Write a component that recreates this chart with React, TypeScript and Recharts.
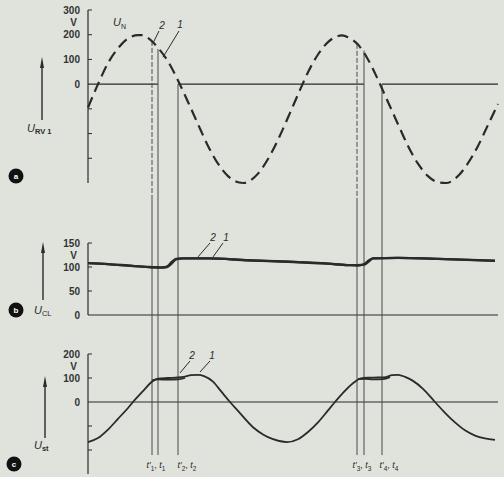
import React from 'react';
import { LineChart, Line, XAxis, YAxis, ReferenceLine, ReferenceDot } from 'recharts';

// a) supply voltage U_N (dashed), time in ms
const supplyTime = [0, 1, 2, 3, 4, 5, 5.5, 6, 7, 8, 9, 10, 11, 12, 13, 14, 15, 15.6, 16, 17, 18, 19, 20, 21, 22, 23, 24, 25, 25.4, 26, 27, 28, 29, 30, 31, 32, 33, 34, 35, 35.8, 37, 38, 39, 40, 41];
const supplyVolts = [-95, 0, 85, 145, 185, 198, 198, 187, 147, 92, 15, -72, -162, -250, -322, -372, -397, -400, -395, -362, -303, -225, -135, -42, 48, 120, 170, 195, 197, 190, 160, 100, 18, -72, -162, -250, -322, -372, -397, -400, -372, -320, -250, -165, -80];

// b) U_CL, curves 1 and 2
const clampTime = [0, 2, 4, 6, 7.4, 7.9, 8.4, 8.8, 9.5, 12, 16, 20, 24, 26, 27, 27.6, 28.1, 28.5, 31, 35, 40.7];
const clampVolts1 = [108, 106, 103, 100, 99, 100, 108, 116, 118, 118, 114, 111, 107, 104, 104, 105, 112, 118, 119, 117, 113];
const clampVolts2 = [108, 106, 103, 100, 99, 101, 111, 117, 118, 118, 114, 111, 107, 104, 103, 106, 114, 118, 119, 117, 113];

// c) U_st, curve 1 and the short pieces of curve 2
const steerTime = [0, 1, 2, 3, 4, 4.5, 5.5, 6.5, 7, 8, 9, 9.7, 10.3, 11, 11.6, 12.5, 13.3, 14.2, 15, 16.5, 17.5, 18.5, 19.9, 21, 22, 23, 24, 24.7, 25.5, 26.5, 27.2, 28, 29, 29.8, 30.4, 31, 31.7, 32.5, 33.5, 34.7, 35.7, 36.7, 37.7, 38.7, 39.7, 40.7];
const steerVolts1 = [-167, -150, -115, -70, -25, 0, 45, 88, 97, 100, 102, 106, 112, 113, 108, 85, 45, 0, -37, -105, -135, -155, -167, -155, -125, -85, -35, 0, 38, 78, 97, 101, 102, 104, 112, 113, 105, 88, 55, 0, -45, -85, -118, -140, -152, -158];
const steer2TimeA = [6.4, 7, 8, 9, 9.7];
const steer2VoltsA = [90, 94, 93, 94, 100];
const steer2TimeB = [27, 27.7, 28.5, 29.5, 30.2];
const steer2VoltsB = [95, 96, 94, 95, 103];

// switching instants t1', t1, t2, t3', t3, t4
const eventTimes = [6.4, 7.0, 9.0, 26.9, 27.6, 29.4];
const eventTopVolts = [175, 142, 0, 163, 136, 0];
const eventPrimed = [true, false, false, true, false, false];
const eventLabelTimes = [6.8, 9.9, 27.4, 30.1];
const eventLabelIndex = ['1', '2', '3', '4'];

const INK = '#2a2a2a';
const THIN = '#4a4a4a';
const BG = '#dfe3dc';
const FONT = '"Liberation Sans", Arial, sans-serif';

const rows = (ts: number[], vs: number[]) => ts.map((t, i) => ({ t, v: vs[i] }));

function VoltTick(props: any) {
  const { x, y, payload, unitAt } = props;
  const v = payload.value;
  if (v === unitAt) {
    return (
      <text x={x - 11} y={y} dy={4} textAnchor="end" fontSize={10} fontWeight="bold" fill="#333" fontFamily={FONT}>V</text>
    );
  }
  return (
    <g>
      {v !== 0 && <line x1={x} x2={x + 4} y1={y} y2={y} stroke={INK} strokeWidth={1} />}
      {v >= 0 && (
        <text x={x - 8} y={y} dy={3.5} textAnchor="end" fontSize={10} fontWeight="bold" fill="#333" fontFamily={FONT}>
          {v}
        </text>
      )}
    </g>
  );
}

const tag = (content: React.ReactNode, anchor: 'start' | 'middle' | 'end' = 'middle', size = 10) =>
  (p: any) => (
    <text x={p.viewBox.x} y={p.viewBox.y} textAnchor={anchor} fontSize={size} fill={INK} fontFamily={FONT}>
      {content}
    </text>
  );

const Note = (t: number, v: number, content: React.ReactNode, key: string, anchor: 'start' | 'middle' | 'end' = 'middle', size = 10) => (
  <ReferenceDot key={key} x={t} y={v} r={0} fill="none" stroke="none" ifOverflow="visible" label={tag(content, anchor, size)} />
);

const Leader = (t1: number, v1: number, t2: number, v2: number, key: string) => (
  <ReferenceLine key={key} segment={[{ x: t1, y: v1 }, { x: t2, y: v2 }]} stroke={INK} strokeWidth={1} ifOverflow="visible" />
);

const verticals = (top: (i: number) => number, bottom: number, dashedPrimes: boolean) =>
  eventTimes.map((t, i) => (
    <ReferenceLine
      key={`ev${i}`}
      segment={[{ x: t, y: top(i) }, { x: t, y: bottom }]}
      stroke={THIN}
      strokeWidth={1}
      strokeDasharray={dashedPrimes && eventPrimed[i] ? '5 2' : undefined}
      ifOverflow="visible"
    />
  ));

const margin = (top: number, bottom: number) => ({ top, bottom, left: 48, right: 6 });

function PanelA() {
  const zeroPieces = [[0, eventTimes[1]], [eventTimes[2], eventTimes[4]], [eventTimes[5], 41]];
  return (
    <LineChart width={504} height={200} margin={margin(10, 17)} data={rows(supplyTime, supplyVolts)}>
      <XAxis type="number" dataKey="t" domain={[0, 41]} hide />
      <YAxis
        domain={[-400, 300]}
        ticks={[-300, -200, -100, 0, 100, 200, 250, 300]}
        interval={0}
        width={40}
        tickSize={0}
        tickMargin={0}
        tickLine={false}
        axisLine={{ stroke: INK, strokeWidth: 1.2 }}
        tick={<VoltTick unitAt={250} />}
      />
      {zeroPieces.map(([a, b], i) => (
        <ReferenceLine key={`z${i}`} segment={[{ x: a, y: 0 }, { x: b, y: 0 }]} stroke={INK} strokeWidth={1.2} ifOverflow="visible" />
      ))}
      {verticals((i) => eventTopVolts[i], -520, true)}
      <Line type="monotone" dataKey="v" stroke={INK} strokeWidth={2.2} strokeDasharray="11 6" dot={false} isAnimationActive={false} />
      {Note(2.5, 235, <><tspan fontStyle="italic">U</tspan><tspan dy={3} fontSize={7}>N</tspan></>, 'un', 'start', 11)}
      {Leader(7.1, 215, 6.5, 166, 'l2')}
      {Leader(9.1, 215, 7.5, 109, 'l1')}
      {Note(7.4, 225, <tspan fontStyle="italic">2</tspan>, 'n2')}
      {Note(9.2, 227, <tspan fontStyle="italic">1</tspan>, 'n1')}
    </LineChart>
  );
}

function PanelB() {
  return (
    <LineChart width={504} height={135} margin={margin(43, 20)}>
      <XAxis type="number" dataKey="t" domain={[0, 41]} hide />
      <YAxis
        domain={[0, 150]}
        ticks={[0, 50, 100, 125, 150]}
        interval={0}
        width={40}
        tickSize={0}
        tickMargin={0}
        tickLine={false}
        axisLine={{ stroke: INK, strokeWidth: 1.2 }}
        tick={<VoltTick unitAt={125} />}
      />
      <ReferenceLine y={0} stroke={INK} strokeWidth={1.2} ifOverflow="visible" />
      {verticals(() => 280, -60, false)}
      <Line data={rows(clampTime, clampVolts2)} type="monotone" dataKey="v" stroke={INK} strokeWidth={2.2} dot={false} isAnimationActive={false} />
      <Line data={rows(clampTime, clampVolts1)} type="monotone" dataKey="v" stroke={INK} strokeWidth={2.4} dot={false} isAnimationActive={false} />
      {Leader(12.2, 150, 11, 121, 'l2')}
      {Leader(13.5, 150, 12.5, 121, 'l1')}
      {Note(12.5, 154, <tspan fontStyle="italic">2</tspan>, 'n2')}
      {Note(13.8, 154, <tspan fontStyle="italic">1</tspan>, 'n1')}
    </LineChart>
  );
}

function PanelC() {
  return (
    <LineChart width={504} height={142} margin={margin(19, 3)}>
      <XAxis type="number" dataKey="t" domain={[0, 41]} hide />
      <YAxis
        domain={[-300, 200]}
        ticks={[-200, -100, 0, 100, 150, 200]}
        interval={0}
        width={40}
        tickSize={0}
        tickMargin={0}
        tickLine={false}
        axisLine={{ stroke: INK, strokeWidth: 1.2 }}
        tick={<VoltTick unitAt={150} />}
      />
      <ReferenceLine y={0} stroke={INK} strokeWidth={1.2} ifOverflow="visible" />
      {verticals(() => 320, -221, false)}
      <Line data={rows(steerTime, steerVolts1)} type="monotone" dataKey="v" stroke={INK} strokeWidth={1.8} dot={false} isAnimationActive={false} />
      <Line data={rows(steer2TimeA, steer2VoltsA)} type="monotone" dataKey="v" stroke={INK} strokeWidth={1.8} dot={false} isAnimationActive={false} />
      <Line data={rows(steer2TimeB, steer2VoltsB)} type="monotone" dataKey="v" stroke={INK} strokeWidth={1.8} dot={false} isAnimationActive={false} />
      {Leader(10.2, 171, 9.2, 121, 'l2')}
      {Leader(12.2, 171, 11.2, 125, 'l1')}
      {Note(10.4, 181, <tspan fontStyle="italic">2</tspan>, 'n2')}
      {Note(12.4, 181, <tspan fontStyle="italic">1</tspan>, 'n1')}
      {eventLabelTimes.map((t, i) =>
        Note(
          t,
          -277,
          <>
            <tspan fontStyle="italic">t′</tspan>
            <tspan dy={2.5} fontSize={6.5}>{eventLabelIndex[i]}</tspan>
            <tspan dy={-2.5}>, </tspan>
            <tspan fontStyle="italic">t</tspan>
            <tspan dy={2.5} fontSize={6.5}>{eventLabelIndex[i]}</tspan>
          </>,
          `tl${i}`,
          'middle',
          9
        )
      )}
    </LineChart>
  );
}

function Badge({ x, y, letter }: { x: number; y: number; letter: string }) {
  return (
    <g>
      <circle cx={x} cy={y} r={7.5} fill="#111" />
      <text x={x} y={y + 3} textAnchor="middle" fontSize={8} fontWeight="bold" fill="#fff" fontFamily={FONT}>{letter}</text>
    </g>
  );
}

function UpArrow({ x, y1, y2 }: { x: number; y1: number; y2: number }) {
  return (
    <g>
      <line x1={x} x2={x} y1={y1} y2={y2 + 8} stroke={INK} strokeWidth={1.4} />
      <polygon points={`${x},${y2} ${x - 2},${y2 + 11} ${x + 2},${y2 + 11}`} fill={INK} />
    </g>
  );
}

function SideNotes() {
  const txt = { fill: INK, fontFamily: FONT, fontSize: 11 } as const;
  return (
    <svg width={504} height={477} style={{ position: 'absolute', left: 0, top: 0, pointerEvents: 'none' }}>
      <UpArrow x={42} y1={120} y2={57} />
      <text x={27} y={132} {...txt}>
        <tspan fontStyle="italic">U</tspan>
        <tspan dy={2} fontSize={7.5} fontWeight="bold">RV 1</tspan>
      </text>
      <Badge x={16} y={176} letter="a" />

      <UpArrow x={43} y1={300} y2={242} />
      <text x={34} y={314} {...txt}>
        <tspan fontStyle="italic">U</tspan>
        <tspan dy={2} fontSize={7.5}>CL</tspan>
      </text>
      <Badge x={16} y={310} letter="b" />

      <UpArrow x={45} y1={438} y2={376} />
      <text x={34} y={449} {...txt}>
        <tspan fontStyle="italic">U</tspan>
        <tspan dy={2} fontSize={7.5} fontWeight="bold">st</tspan>
      </text>
      <Badge x={14} y={464} letter="c" />
    </svg>
  );
}

export default function App() {
  return (
    <div style={{ position: 'absolute', left: 0, top: 0, width: 504, height: 477, background: BG, overflow: 'hidden', fontFamily: FONT }}>
      <div style={{ position: 'absolute', left: 0, top: 0 }}>
        <PanelA />
      </div>
      <div style={{ position: 'absolute', left: 0, top: 200 }}>
        <PanelB />
      </div>
      <div style={{ position: 'absolute', left: 0, top: 335 }}>
        <PanelC />
      </div>
      <SideNotes />
    </div>
  );
}
